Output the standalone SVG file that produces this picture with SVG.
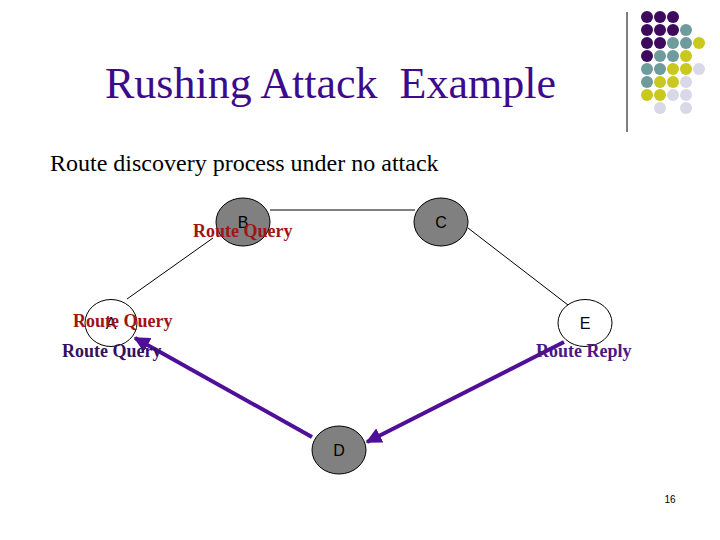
<svg xmlns="http://www.w3.org/2000/svg" width="720" height="540" viewBox="0 0 720 540">
<style>
.title{font-family:"Liberation Serif","Times New Roman",serif;font-size:44px;fill:#3d0a8c;white-space:pre}
.sub{font-family:"Liberation Serif","Times New Roman",serif;font-size:24px;fill:#000}
.node{stroke:#000;stroke-width:1}
.gray{fill:#808080}
.white{fill:#fff}
.nl{font-family:"Liberation Sans",Arial,sans-serif;font-size:16px;fill:#000;text-anchor:middle}
.lbl{font-family:"Liberation Serif","Times New Roman",serif;font-size:18px;font-weight:bold}
.red{fill:#a01414}
.pur{fill:#35105e}
.pur2{fill:#4a1880}
.thin{stroke:#000;stroke-width:1;fill:none}
.arr{stroke:#4f0f99;stroke-width:4;fill:none;marker-end:url(#ah)}
.p{fill:#3d0a5e}.t{fill:#6e9b9b}.y{fill:#c8c81e}.l{fill:#d8d8e8}
</style>
<defs>
<marker id="ah" viewBox="0 0 10 10" refX="9" refY="5" markerWidth="4" markerHeight="4" orient="auto" markerUnits="strokeWidth">
<path d="M0,0 L10,5 L0,10 z" fill="#4f0f99"/>
</marker>
</defs>
<rect width="720" height="540" fill="#fff"/>
<g id="decor">
<line x1="627" y1="12" x2="627" y2="132" stroke="#000" stroke-width="1"/>
<circle class="p" cx="647" cy="17" r="6"/><circle class="p" cx="660" cy="17" r="6"/><circle class="p" cx="673" cy="17" r="6"/>
<circle class="p" cx="647" cy="30" r="6"/><circle class="p" cx="660" cy="30" r="6"/><circle class="p" cx="673" cy="30" r="6"/><circle class="t" cx="686" cy="30" r="6"/>
<circle class="p" cx="647" cy="43" r="6"/><circle class="p" cx="660" cy="43" r="6"/><circle class="t" cx="673" cy="43" r="6"/><circle class="t" cx="686" cy="43" r="6"/><circle class="y" cx="699" cy="43" r="6"/>
<circle class="p" cx="647" cy="56" r="6"/><circle class="t" cx="660" cy="56" r="6"/><circle class="t" cx="673" cy="56" r="6"/><circle class="y" cx="686" cy="56" r="6"/>
<circle class="t" cx="647" cy="69" r="6"/><circle class="t" cx="660" cy="69" r="6"/><circle class="y" cx="673" cy="69" r="6"/><circle class="y" cx="686" cy="69" r="6"/><circle class="l" cx="699" cy="69" r="6"/>
<circle class="t" cx="647" cy="82" r="6"/><circle class="y" cx="660" cy="82" r="6"/><circle class="y" cx="673" cy="82" r="6"/><circle class="l" cx="686" cy="82" r="6"/>
<circle class="y" cx="647" cy="95" r="6"/><circle class="y" cx="660" cy="95" r="6"/><circle class="l" cx="673" cy="95" r="6"/><circle class="l" cx="686" cy="95" r="6"/>
<circle class="l" cx="660" cy="108" r="6"/><circle class="l" cx="686" cy="108" r="6"/>
</g>
<text class="title" x="105" y="98">Rushing Attack  Example</text>
<text class="sub" x="50" y="171">Route discovery process under no attack</text>
<g id="connectors">
<line class="thin" x1="270" y1="210" x2="415" y2="210"/>
<line class="thin" x1="127" y1="299" x2="213" y2="238"/>
<line class="thin" x1="468" y1="228" x2="568" y2="305"/>
<line class="arr" x1="312" y1="437" x2="135" y2="338"/>
<line class="arr" x1="564" y1="342" x2="367" y2="442"/>
</g>
<g id="B"><ellipse class="node gray" cx="243" cy="222" rx="27" ry="24"/><text class="nl" x="243" y="228">B</text></g>
<g id="C"><ellipse class="node gray" cx="441" cy="222" rx="27" ry="24"/><text class="nl" x="441" y="228">C</text></g>
<g id="A"><ellipse class="node white" cx="111" cy="323" rx="26" ry="23.5" fill-opacity="0"/><text class="nl" x="111" y="329">A</text></g>
<g id="E"><ellipse class="node white" cx="585" cy="323" rx="27" ry="23.5"/><text class="nl" x="585" y="329">E</text></g>
<g id="D"><ellipse class="node gray" cx="339" cy="450" rx="27" ry="24"/><text class="nl" x="339" y="456">D</text></g>
<g id="labels">
<text class="lbl red" x="193" y="237">Route Query</text>
<text class="lbl red" x="73" y="327">Route Query</text>
<text class="lbl pur" x="62" y="357">Route Query</text>
<text class="lbl pur2" x="536" y="357">Route Reply</text>
</g>
<text x="670" y="503" font-family="Liberation Sans,Arial,sans-serif" font-size="10" text-anchor="middle" fill="#000">16</text>
</svg>
